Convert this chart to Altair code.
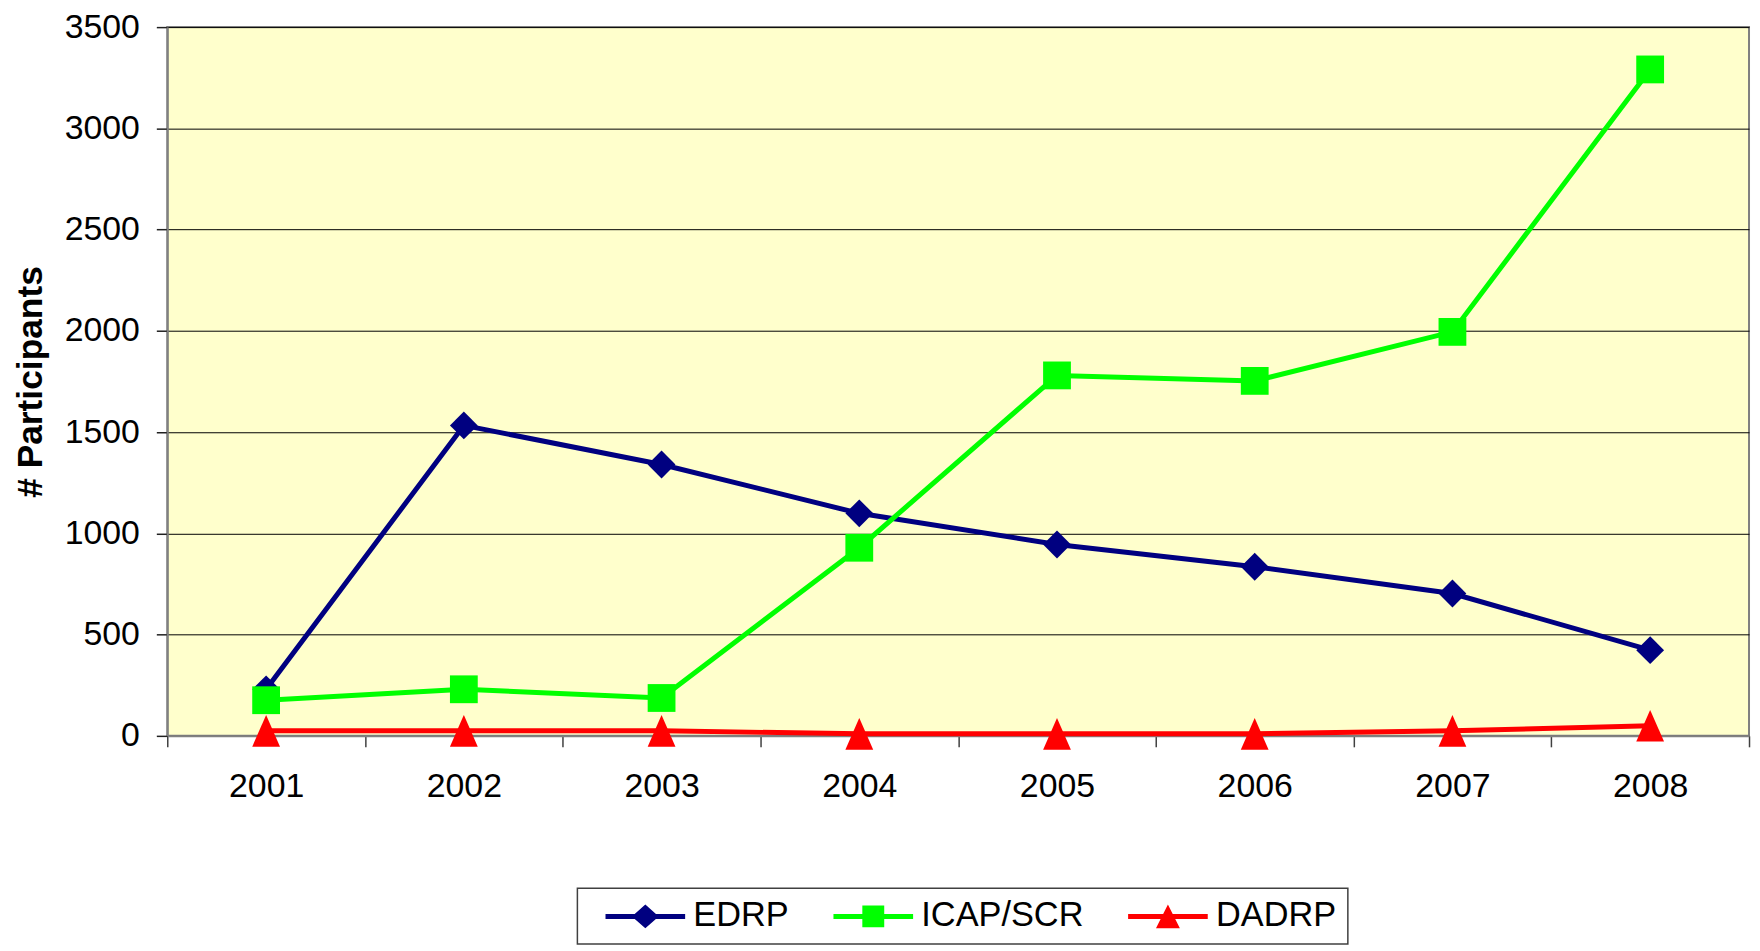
import altair as alt
import pandas as pd

years = ["2001", "2002", "2003", "2004", "2005", "2006", "2007", "2008"]
edrp = [230, 1533, 1340, 1099, 945, 835, 703, 423]
icap_scr = [176, 230, 187, 929, 1780, 1753, 1995, 3291]
dadrp = [25, 25, 25, 10, 10, 10, 25, 50]
series = ["EDRP", "ICAP/SCR", "DADRP"]
colors = ["#000080", "#00FF00", "#FF0000"]

rows = []
for order, (name, vals) in enumerate(zip(series, [edrp, icap_scr, dadrp])):
    for yr, v in zip(years, vals):
        rows.append({"Year": yr, "Participants": v, "Program": name, "order": order})
df = pd.DataFrame(rows)

marker_paths = ["M0,-1L1,0L0,1L-1,0Z", "M-1,-1H1V1H-1Z", "M0,-1.14L1,1.14L-1,1.14Z"]
legend_paths = [
    "M-4,-0.25H4V0.25H-4Z M0,-1.2L1.35,0L0,1.2L-1.35,0Z",
    "M-4,-0.25H4V0.25H-4Z M-1.1,-1.1H1.1V1.1H-1.1Z",
    "M-4,-0.25H4V0.25H-4Z M0,-1.2L1.2,1.2L-1.2,1.2Z",
]

FONT = "Liberation Sans"

x_enc = alt.X(
    "Year:N", sort=years,
    scale=alt.Scale(type="band", paddingInner=0, paddingOuter=0),
    axis=alt.Axis(title=None, labelAngle=0, tickBand="extent", labelFont=FONT,
                  labelFontSize=34, labelColor="black", labelPadding=23,
                  tickSize=11, tickColor="#404040", tickWidth=1.5,
                  domainColor="#808080", domainWidth=2, grid=False),
)
y_enc = alt.Y(
    "Participants:Q",
    scale=alt.Scale(domain=[0, 3500], nice=False),
    axis=alt.Axis(title="# Participants", values=list(range(0, 3501, 500)), format="d",
                  labelFont=FONT, labelFontSize=34, labelColor="black", labelPadding=17,
                  titleFont=FONT, titleFontSize=35.5, titleFontWeight="bold", titleColor="black",
                  titlePadding=16, tickSize=11, tickColor="#202020", tickWidth=1.5,
                  domainColor="#808080", domainWidth=2, grid=True, gridColor="black",
                  gridWidth=1),
)

lines = alt.Chart(df).mark_line(strokeWidth=5).encode(
    x=x_enc, y=y_enc,
    color=alt.Color("Program:N", scale=alt.Scale(domain=series, range=colors), legend=None),
    detail="Program:N",
)

points = alt.Chart(df).mark_point(filled=True, opacity=1, size=780, strokeWidth=0).encode(
    x=x_enc, y=y_enc,
    color=alt.Color("Program:N", scale=alt.Scale(domain=series, range=colors), legend=None),
    shape=alt.Shape("Program:N", scale=alt.Scale(domain=series, range=marker_paths), legend=None),
    order=alt.Order("order:Q"),
)

leg = alt.Legend(
    title=None, orient="none", legendX=412, legendY=865, direction="horizontal",
    labelFont=FONT, labelFontSize=34.5, labelColor="black", labelLimit=0,
    symbolSize=400, symbolOffset=40, labelOffset=31, columnPadding=27,
    padding=11, strokeColor="#404040", symbolOpacity=1, symbolStrokeWidth=0,
)

legend_layer = alt.Chart(df).mark_point(filled=True, opacity=0, strokeWidth=0).encode(
    x=x_enc, y=y_enc,
    color=alt.Color("Program:N", scale=alt.Scale(domain=series, range=colors), legend=leg),
    shape=alt.Shape("Program:N", scale=alt.Scale(domain=series, range=legend_paths), legend=leg),
)

chart = alt.layer(lines, points, legend_layer).resolve_scale(
    shape="independent", color="independent"
).properties(
    width=1589, height=712,
    padding={"left": 160, "top": 17, "right": 3, "bottom": 230},
    autosize=alt.AutoSizeParams(type="none"),
).configure_view(
    fill="#FFFFCC", stroke="#808080", strokeWidth=2
).configure_legend(
    strokeWidth=1.5
)

chart.save("out.html", embed_options={"renderer": "svg", "actions": False})
